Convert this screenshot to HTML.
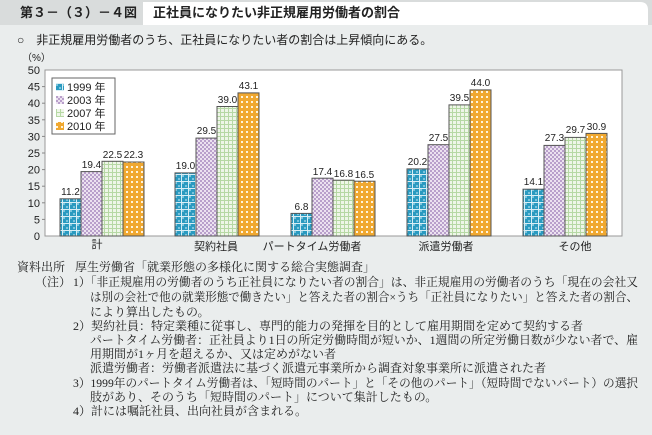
<!DOCTYPE html>
<html><head><meta charset="utf-8"><style>
html,body{margin:0;padding:0;background:#eaeded;}
svg{display:block;}
.s{font-family:"Liberation Sans","Noto Sans CJK JP",sans-serif;}
.m{font-family:"Liberation Serif","Noto Serif CJK SC",serif;font-size:12px;fill:#222;}
</style></head><body>
<svg width="652" height="435" viewBox="0 0 652 435" xmlns="http://www.w3.org/2000/svg">
<defs>
<pattern id="p1" width="7" height="7" patternUnits="userSpaceOnUse">
<rect width="7" height="7" fill="#2a9ac0"/><rect width="2" height="2" fill="#7cc4dc"/><rect x="3" y="3" width="2" height="2" fill="#7cc4dc"/>
<rect x="6" width="1" height="7" fill="#d8eef5"/><rect y="6" width="7" height="1" fill="#d8eef5"/></pattern>
<pattern id="p2" width="4" height="4" patternUnits="userSpaceOnUse">
<rect width="4" height="4" fill="#ece2f0"/><rect width="2" height="2" fill="#b9a0cb"/><rect x="2" y="2" width="2" height="2" fill="#b9a0cb"/></pattern>
<pattern id="p3" width="4" height="4" patternUnits="userSpaceOnUse">
<rect width="4" height="4" fill="#eef6e8"/><rect width="1" height="4" fill="#b6d8a4"/><rect width="4" height="1" fill="#b6d8a4"/></pattern>
<pattern id="p4" width="5" height="5" patternUnits="userSpaceOnUse">
<rect width="5" height="5" fill="#f0a830"/><rect x="1" y="1" width="2" height="2" fill="#fff4dc"/></pattern>
</defs>
<rect width="652" height="435" fill="#eaeded"/>
<rect x="0" y="0" width="652" height="25" fill="#d9dcdc"/>
<path d="M143 2 H640 Q648 2 648 10 V25 H143 Z" fill="#fff"/>
<text class="s" x="20" y="17" font-size="13" font-weight="bold" fill="#222">第３－（３）－４図</text>
<text class="s" x="153" y="17" font-size="13" font-weight="bold" fill="#222">正社員になりたい非正規雇用労働者の割合</text>
<text class="s" x="17" y="44" font-size="12" fill="#222">○　非正規雇用労働者のうち、正社員になりたい者の割合は上昇傾向にある。</text>
<text class="s" x="22" y="61" font-size="10" fill="#222">（%）</text>
<rect x="45" y="70" width="577" height="166" fill="#fff" stroke="#999" stroke-width="1"/>
<g class="s" font-size="11" fill="#222" text-anchor="end">
<text x="40" y="240">0</text><text x="40" y="223.4">5</text><text x="40" y="206.8">10</text><text x="40" y="190.2">15</text><text x="40" y="173.6">20</text><text x="40" y="157">25</text><text x="40" y="140.4">30</text><text x="40" y="123.8">35</text><text x="40" y="107.2">40</text><text x="40" y="90.6">45</text><text x="40" y="74">50</text>
</g>
<g stroke="#888"><line x1="42" y1="219.4" x2="45" y2="219.4"/><line x1="42" y1="202.8" x2="45" y2="202.8"/><line x1="42" y1="186.2" x2="45" y2="186.2"/><line x1="42" y1="169.6" x2="45" y2="169.6"/><line x1="42" y1="153" x2="45" y2="153"/><line x1="42" y1="136.4" x2="45" y2="136.4"/><line x1="42" y1="119.8" x2="45" y2="119.8"/><line x1="42" y1="103.2" x2="45" y2="103.2"/><line x1="42" y1="86.6" x2="45" y2="86.6"/></g>
<g id="bars" stroke="#555" stroke-width="1"></g>
<g id="vals" class="s" font-size="10" fill="#222" text-anchor="middle"></g>
<g class="s" font-size="11" fill="#222" text-anchor="middle">
<text x="97" y="248">計</text><text x="216" y="250">契約社員</text><text x="312" y="250">パートタイム労働者</text><text x="446" y="250">派遣労働者</text><text x="575" y="250">その他</text>
</g>
<rect x="52" y="78" width="63" height="56" fill="#fff" stroke="#666"/>
<g class="s" font-size="11" fill="#222">
<rect x="56" y="83" width="8" height="8" fill="url(#p1)"/><text x="67" y="91">1999 年</text>
<rect x="56" y="96" width="8" height="8" fill="url(#p2)"/><text x="67" y="104">2003 年</text>
<rect x="56" y="109" width="8" height="8" fill="url(#p3)"/><text x="67" y="117">2007 年</text>
<rect x="56" y="122" width="8" height="8" fill="url(#p4)"/><text x="67" y="130">2010 年</text>
</g>
<g class="m">
<text x="17" y="271">資料出所</text><text x="75" y="271">厚生労働省「就業形態の多様化に関する総合実態調査」</text>
<text x="35" y="286">（注）</text><text x="73" y="286" textLength="565" lengthAdjust="spacingAndGlyphs">1）「非正規雇用の労働者のうち正社員になりたい者の割合」は、非正規雇用の労働者のうち「現在の会社又</text>
<text x="90" y="301" textLength="548" lengthAdjust="spacingAndGlyphs">は別の会社で他の就業形態で働きたい」と答えた者の割合×うち「正社員になりたい」と答えた者の割合、</text>
<text x="90" y="316">により算出したもの。</text>
<text x="73" y="330">2）契約社員：特定業種に従事し、専門的能力の発揮を目的として雇用期間を定めて契約する者</text>
<text x="90" y="344" textLength="548" lengthAdjust="spacingAndGlyphs">パートタイム労働者：正社員より1日の所定労働時間が短いか、1週間の所定労働日数が少ない者で、雇</text>
<text x="90" y="358">用期間が1ヶ月を超えるか、又は定めがない者</text>
<text x="90" y="372">派遣労働者：労働者派遣法に基づく派遣元事業所から調査対象事業所に派遣された者</text>
<text x="73" y="387" textLength="565" lengthAdjust="spacingAndGlyphs">3）1999年のパートタイム労働者は、「短時間のパート」と「その他のパート」（短時間でないパート）の選択</text>
<text x="90" y="401">肢があり、そのうち「短時間のパート」について集計したもの。</text>
<text x="73" y="415">4）計には嘱託社員、出向社員が含まれる。</text>
</g>
<g stroke="#555" stroke-width="1">
<rect x="60" y="198.8" width="21" height="37.2" fill="url(#p1)"/><rect x="81" y="171.6" width="21" height="64.4" fill="url(#p2)"/><rect x="102" y="161.3" width="21" height="74.7" fill="url(#p3)"/><rect x="123" y="162" width="21" height="74" fill="url(#p4)"/>
<rect x="175" y="172.9" width="21" height="63.1" fill="url(#p1)"/><rect x="196" y="138.1" width="21" height="97.9" fill="url(#p2)"/><rect x="217" y="106.5" width="21" height="129.5" fill="url(#p3)"/><rect x="238" y="92.9" width="21" height="143.1" fill="url(#p4)"/>
<rect x="291" y="213.4" width="21" height="22.6" fill="url(#p1)"/><rect x="312" y="178.2" width="21" height="57.8" fill="url(#p2)"/><rect x="333" y="180.2" width="21" height="55.8" fill="url(#p3)"/><rect x="354" y="181.2" width="21" height="54.8" fill="url(#p4)"/>
<rect x="407" y="168.9" width="21" height="67.1" fill="url(#p1)"/><rect x="428" y="144.7" width="21" height="91.3" fill="url(#p2)"/><rect x="449" y="104.9" width="21" height="131.1" fill="url(#p3)"/><rect x="470" y="89.9" width="21" height="146.1" fill="url(#p4)"/>
<rect x="523" y="189.2" width="21" height="46.8" fill="url(#p1)"/><rect x="544" y="145.4" width="21" height="90.6" fill="url(#p2)"/><rect x="565" y="137.4" width="21" height="98.6" fill="url(#p3)"/><rect x="586" y="133.4" width="21" height="102.6" fill="url(#p4)"/>
</g>
<g class="s" font-size="10" fill="#222" text-anchor="middle">
<text x="70.5" y="195">11.2</text><text x="91.5" y="168">19.4</text><text x="112.5" y="158">22.5</text><text x="133.5" y="158">22.3</text>
<text x="185.5" y="169">19.0</text><text x="206.5" y="134">29.5</text><text x="227.5" y="103">39.0</text><text x="248.5" y="89">43.1</text>
<text x="301.5" y="210">6.8</text><text x="322.5" y="175">17.4</text><text x="343.5" y="177">16.8</text><text x="364.5" y="178">16.5</text>
<text x="417.5" y="165">20.2</text><text x="438.5" y="141">27.5</text><text x="459.5" y="101">39.5</text><text x="480.5" y="86">44.0</text>
<text x="533.5" y="185">14.1</text><text x="554.5" y="141">27.3</text><text x="575.5" y="133">29.7</text><text x="596.5" y="130">30.9</text>
</g>
</svg>
</body></html>
